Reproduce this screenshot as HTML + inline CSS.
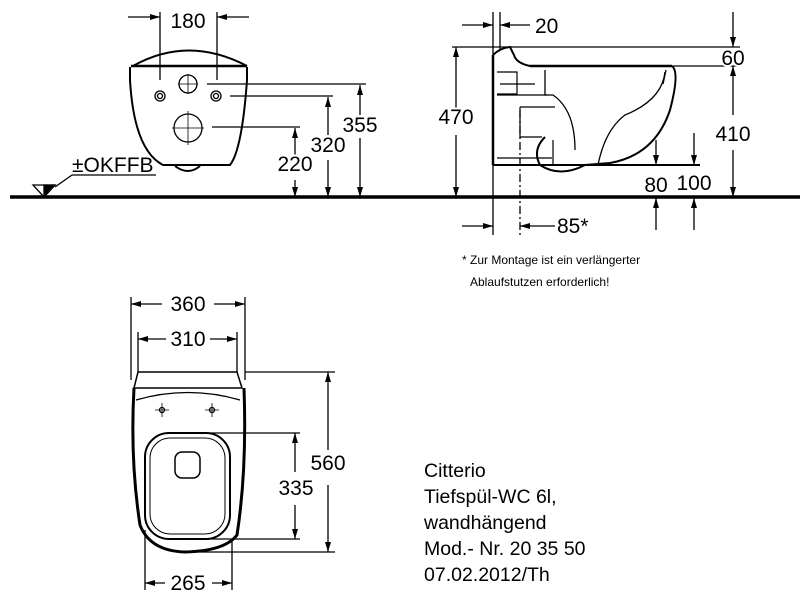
<!DOCTYPE html>
<html><head><meta charset="utf-8"><style>
html,body{margin:0;padding:0;background:#fff;width:800px;height:601px;overflow:hidden}
svg{display:block}
text{font-family:"Liberation Sans",sans-serif;fill:#000}
</style></head><body>
<svg width="800" height="601" viewBox="0 0 800 601">
<defs>
<marker id="a" viewBox="0 0 10 6" refX="10" refY="3" markerWidth="10" markerHeight="6" orient="auto" markerUnits="userSpaceOnUse"><path d="M0,0L10,3L0,6z" fill="#000"/></marker>
</defs>
<g stroke="#000" fill="none" stroke-width="1.3">
<line x1="10" y1="197" x2="800" y2="197" stroke-width="3.5"/>
<path d="M133,66 Q188,35 247,66" stroke-width="2"/>
<line x1="131" y1="66" x2="247" y2="66" stroke-width="2.5"/>
<path d="M130,67 L130,80 Q134,150 163,165 L230,165 Q242,150 247,80 L247,67" stroke-width="2"/>
<path d="M175,166 Q188,176 200,166" stroke-width="2"/>
<circle cx="160" cy="96" r="5"/><circle cx="160" cy="96" r="2.5"/>
<circle cx="216" cy="96" r="5"/><circle cx="216" cy="96" r="2.5"/>
<circle cx="188" cy="84" r="9"/>
<circle cx="188" cy="128" r="14"/>
<path d="M172,128h32M188,111v34M178,84h20M188,74v20" stroke-width="0.8"/>
<line x1="160" y1="12" x2="160" y2="80"/><line x1="217" y1="12" x2="217" y2="80"/>
<line x1="128" y1="17" x2="160" y2="17" marker-end="url(#a)"/>
<line x1="249" y1="17" x2="217" y2="17" marker-end="url(#a)"/>
<line x1="207" y1="84" x2="366" y2="84"/>
<line x1="230" y1="96" x2="333" y2="96"/>
<line x1="212" y1="127" x2="300" y2="127"/>
<line x1="295" y1="160" x2="295" y2="128" marker-end="url(#a)"/><line x1="295" y1="180" x2="295" y2="197" marker-end="url(#a)"/>
<line x1="328" y1="135" x2="328" y2="97" marker-end="url(#a)"/><line x1="328" y1="160" x2="328" y2="197" marker-end="url(#a)"/>
<line x1="360" y1="115" x2="360" y2="85" marker-end="url(#a)"/><line x1="360" y1="138" x2="360" y2="197" marker-end="url(#a)"/>
<line x1="72" y1="175" x2="156" y2="175"/>
<line x1="72" y1="175" x2="55" y2="187"/>
<path d="M33,185 L55,185 L44,197 Z"/>
<path d="M44,185 L55,185 L44,197 Z" fill="#000"/>
<!-- side view -->
<line x1="493" y1="12" x2="493" y2="235"/><line x1="500" y1="12" x2="500" y2="50"/>
<line x1="462" y1="25" x2="493" y2="25" marker-end="url(#a)"/>
<line x1="530" y1="25" x2="500" y2="25" marker-end="url(#a)"/>
<line x1="452" y1="47" x2="740" y2="47"/>
<line x1="733" y1="12" x2="733" y2="47" marker-end="url(#a)"/>
<line x1="672" y1="66" x2="740" y2="66"/>
<line x1="733" y1="115" x2="733" y2="66" marker-end="url(#a)"/><line x1="733" y1="150" x2="733" y2="197" marker-end="url(#a)"/>
<line x1="456" y1="110" x2="456" y2="47" marker-end="url(#a)"/><line x1="456" y1="135" x2="456" y2="197" marker-end="url(#a)"/>
<line x1="493" y1="55" x2="493" y2="165" stroke-width="2.5"/>
<path d="M493,55 Q500,48 510,47 L514,55 Q516,63 530,66" stroke-width="2"/>
<line x1="530" y1="66" x2="672" y2="66" stroke-width="2.5"/>
<path d="M672,66 Q680,72 670,110 Q655,155 610,163 L585,165 Q560,178 540,165 Q532,150 545,137" stroke-width="2"/>
<path d="M545,70 L545,95 L553,95 Q575,110 575,150 M598,165 Q605,130 625,115 Q662,100 665,72 M666,70 L663,84" stroke-width="1.3"/>
<path d="M497,72h20v22h-20M517,72v22M500,84h35M497,95h50M520,107h35M520,107v30M520,137h22M497,158h55M553,140v25" stroke-width="1.2"/>
<line x1="493" y1="165" x2="700" y2="165" stroke-width="2"/>
<line x1="520" y1="110" x2="520" y2="235" stroke-dasharray="8,3,2,3"/>
<line x1="462" y1="226" x2="493" y2="226" marker-end="url(#a)"/>
<line x1="555" y1="226" x2="520" y2="226" marker-end="url(#a)"/>
<line x1="656" y1="140" x2="656" y2="165" marker-end="url(#a)"/>
<line x1="656" y1="230" x2="656" y2="198" marker-end="url(#a)"/>
<line x1="694" y1="133" x2="694" y2="165" marker-end="url(#a)"/>
<line x1="694" y1="230" x2="694" y2="198" marker-end="url(#a)"/>
<!-- top view -->
<line x1="131" y1="297" x2="131" y2="380"/><line x1="245" y1="297" x2="245" y2="380"/>
<line x1="162" y1="304" x2="131" y2="304" marker-end="url(#a)"/><line x1="214" y1="304" x2="245" y2="304" marker-end="url(#a)"/>
<line x1="138" y1="332" x2="138" y2="372"/><line x1="237" y1="332" x2="237" y2="372"/>
<line x1="166" y1="339" x2="138" y2="339" marker-end="url(#a)"/><line x1="210" y1="339" x2="237" y2="339" marker-end="url(#a)"/>
<path d="M138,372 L237,372 L242,388 L134,388 Z" stroke-width="1.5"/>
<path d="M134,388 Q130,460 140,525 Q150,551 185,552 Q225,551 237,535 Q247,470 244,388" stroke-width="3"/>
<path d="M136,400 Q188,385 240,400" stroke-width="1.2"/>
<rect x="145" y="433" width="85" height="106" rx="24" stroke-width="2"/>
<rect x="150" y="438" width="75" height="96" rx="20" stroke-width="1"/>
<rect x="175" y="452" width="25" height="26" rx="7" stroke-width="1.5"/>
<circle cx="162" cy="410" r="2.5"/><circle cx="212" cy="410" r="2.5"/>
<path d="M155,410h14M162,403v14M205,410h14M212,403v14" stroke-width="0.8"/>
<line x1="245" y1="372" x2="335" y2="372"/><line x1="190" y1="552" x2="335" y2="552"/>
<line x1="205" y1="433" x2="300" y2="433"/><line x1="205" y1="539" x2="300" y2="539"/>
<line x1="328" y1="450" x2="328" y2="372" marker-end="url(#a)"/><line x1="328" y1="485" x2="328" y2="552" marker-end="url(#a)"/>
<line x1="295" y1="472" x2="295" y2="433" marker-end="url(#a)"/><line x1="295" y1="505" x2="295" y2="539" marker-end="url(#a)"/>
<line x1="145" y1="530" x2="145" y2="590"/><line x1="232" y1="540" x2="232" y2="590"/>
<line x1="165" y1="583" x2="145" y2="583" marker-end="url(#a)"/><line x1="212" y1="583" x2="232" y2="583" marker-end="url(#a)"/>
</g>
<g font-size="21">
<text x="188" y="28" text-anchor="middle">180</text>
<text x="295" y="171" text-anchor="middle" stroke="#fff" stroke-width="4" style="paint-order:stroke">220</text>
<text x="328" y="152" text-anchor="middle" stroke="#fff" stroke-width="4" style="paint-order:stroke">320</text>
<text x="360" y="132" text-anchor="middle" stroke="#fff" stroke-width="4" style="paint-order:stroke">355</text>
<text x="72" y="172">±OKFFB</text>
<text x="535" y="33">20</text>
<text x="733" y="65" text-anchor="middle" stroke="#fff" stroke-width="4" style="paint-order:stroke">60</text>
<text x="733" y="141" text-anchor="middle" stroke="#fff" stroke-width="4" style="paint-order:stroke">410</text>
<text x="456" y="124" text-anchor="middle" stroke="#fff" stroke-width="4" style="paint-order:stroke">470</text>
<text x="656" y="192" text-anchor="middle">80</text>
<text x="694" y="190" text-anchor="middle">100</text>
<text x="557" y="233">85*</text>
<text x="188" y="311" text-anchor="middle">360</text>
<text x="188" y="346" text-anchor="middle">310</text>
<text x="328" y="470" text-anchor="middle" stroke="#fff" stroke-width="4" style="paint-order:stroke">560</text>
<text x="296" y="495" text-anchor="middle" stroke="#fff" stroke-width="4" style="paint-order:stroke">335</text>
<text x="188" y="590" text-anchor="middle">265</text>
</g>
<text x="462" y="264" font-size="12">* Zur Montage ist ein verlängerter</text>
<text x="470" y="286" font-size="12">Ablaufstutzen erforderlich!</text>
<g font-size="19.5">
<text x="424" y="477">Citterio</text>
<text x="424" y="503">Tiefspül-WC 6l,</text>
<text x="424" y="529">wandhängend</text>
<text x="424" y="555">Mod.- Nr. 20 35 50</text>
<text x="424" y="581">07.02.2012/Th</text>
</g>
</svg>
</body></html>
